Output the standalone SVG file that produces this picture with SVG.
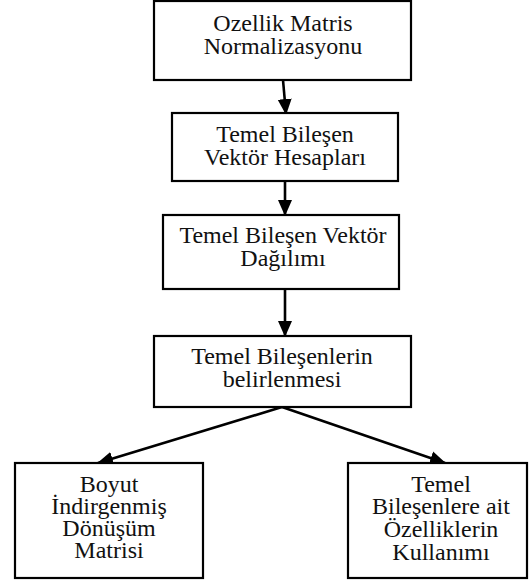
<svg xmlns="http://www.w3.org/2000/svg" width="529" height="580" viewBox="0 0 529 580">
<style>
.box{fill:#fff;stroke:#000;stroke-width:2.2}
.lbl{font-family:"Liberation Serif","Times New Roman",serif;font-size:24px;fill:#111;text-anchor:middle}
.con{stroke:#000;stroke-width:2.6;fill:none;marker-end:url(#ah)}
</style>
<defs>
<marker id="ah" markerUnits="userSpaceOnUse" markerWidth="16" markerHeight="16" viewBox="0 0 16 14" refX="15" refY="7" orient="auto">
<path d="M0,0 L16,7 L0,14 z" fill="#000"/>
</marker>
</defs>
<rect width="529" height="580" fill="#fff"/>
<g id="connectors">
<line class="con" x1="283" y1="80" x2="286" y2="114"/>
<line class="con" x1="285" y1="181" x2="285" y2="215"/>
<line class="con" x1="285" y1="289" x2="285" y2="336"/>
<line class="con" x1="282" y1="407" x2="98" y2="463"/>
<line class="con" x1="282" y1="407" x2="445" y2="463"/>
</g>
<g id="n1">
<rect class="box" x="154" y="1" width="257" height="79"/>
<text class="lbl" x="283" y="31">Ozellik Matris</text>
<text class="lbl" x="283" y="54">Normalizasyonu</text>
</g>
<g id="n2">
<rect class="box" x="172" y="113" width="226" height="68"/>
<text class="lbl" x="285" y="142">Temel Bileşen</text>
<text class="lbl" x="285" y="165">Vektör Hesapları</text>
</g>
<g id="n3">
<rect class="box" x="163" y="215" width="236" height="74"/>
<text class="lbl" x="283" y="243">Temel Bileşen Vektör</text>
<text class="lbl" x="283" y="266">Dağılımı</text>
</g>
<g id="n4">
<rect class="box" x="154" y="336" width="257" height="71"/>
<text class="lbl" x="282" y="364">Temel Bileşenlerin</text>
<text class="lbl" x="282" y="387">belirlenmesi</text>
</g>
<g id="n5">
<rect class="box" x="15" y="463" width="188" height="115"/>
<text class="lbl" x="109" y="492">Boyut</text>
<text class="lbl" x="109" y="514">İndirgenmiş</text>
<text class="lbl" x="109" y="536">Dönüşüm</text>
<text class="lbl" x="109" y="558">Matrisi</text>
</g>
<g id="n6">
<rect class="box" x="348" y="463" width="179" height="115"/>
<text class="lbl" x="441" y="492">Temel</text>
<text class="lbl" x="441" y="514">Bileşenlere ait</text>
<text class="lbl" x="441" y="537">Özelliklerin</text>
<text class="lbl" x="441" y="560">Kullanımı</text>
</g>
</svg>
